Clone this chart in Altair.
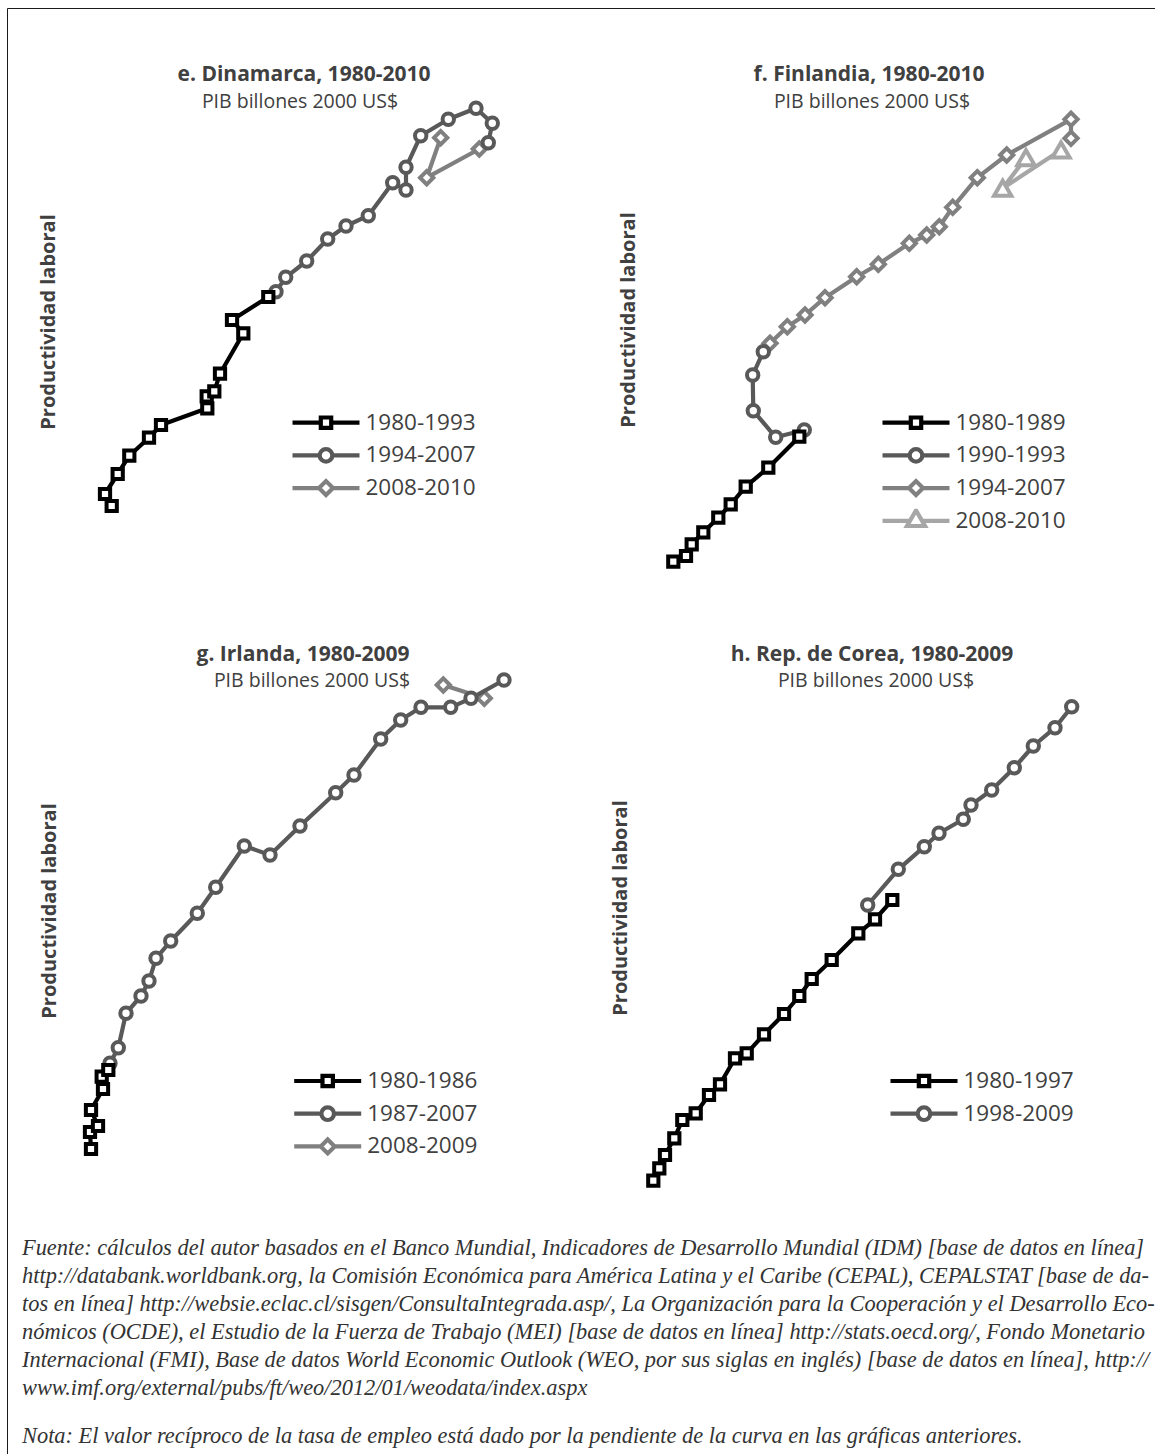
import altair as alt
import pandas as pd

PAD_L, PAD_T = 7, 8
W, H = 1148, 1446

BLACK, DARK, MID, LIGHT = "#000000", "#595959", "#808080", "#a6a6a6"
TXT = "#404040"
SANS = "Open Sans"

# ---------------- data (index units) ----------------
# e. Dinamarca
dk_a_x = [21.7, 15, 27.7, 39.3, 59, 71, 117.3, 116.7, 124.3, 130, 153.3, 142, 178.3]
dk_a_y = [14, 26, 46, 64.3, 82.3, 95, 111.7, 123.7, 128.7, 146.3, 186.7, 200, 223]
dk_b_x = [186, 195.7, 216.7, 237.7, 256, 278.3, 302.7, 316, 316, 330.7, 358.3, 386, 402.3, 398.3]
dk_b_y = [228.3, 242.7, 259, 281, 294, 304.3, 337.3, 330, 352.7, 384.3, 400.7, 411.7, 396.7, 377.3]
dk_c_x = [389.3, 336.7, 350.7]
dk_c_y = [371, 342.3, 382.3]
dk_labels = ["1980-1993", "1994-2007", "2008-2010"]

# f. Finlandia
fi_a_x = [13.3, 26, 31.7, 43.3, 58.3, 70.7, 85.7, 108.3, 139.3]
fi_a_y = [13.3, 19, 30.7, 42.7, 57.3, 70.7, 88.3, 107.3, 138.3]
fi_b_x = [144.3, 115.7, 93.3, 92.7, 103.3]
fi_b_y = [145, 137.7, 164.3, 200, 223.3]
fi_c_x = [110, 127.3, 145, 165, 196.7, 218.3, 249.3, 266.7, 279.3, 292.7, 317.3, 346.7, 411, 411]
fi_c_y = [231.7, 248.3, 260, 277.3, 298.3, 310.7, 331.7, 340, 348.3, 367.7, 397.3, 420, 455.7, 436.7]
fi_d_x = [401, 342.7, 366]
fi_d_y = [425, 386.7, 417.3]
fi_labels = ["1980-1989", "1990-1993", "1994-2007", "2008-2010"]

# g. Irlanda
ie_a_x = [16, 15, 23, 16, 28, 26.7, 33.3]
ie_a_y = [11, 28, 34, 50, 71, 83.3, 90]
ie_b_x = [35, 43.3, 51, 66, 74, 81, 95.7, 122.3, 140.7, 169.3, 195, 225, 260.7, 279, 305.7,
          325.7, 346, 375.7, 396, 429]
ie_b_y = [96.7, 112.3, 146.7, 164, 179, 201.7, 219, 246.7, 272.7, 314, 305, 334, 367.3, 385, 421,
          440, 452.7, 452.7, 461.7, 480]
ie_c_x = [409.3, 368.3]
ie_c_y = [461.7, 475]
ie_labels = ["1980-1986", "1987-2007", "2008-2009"]

# h. Rep. de Corea
kr_a_x = [13.3, 19.3, 25, 34.3, 42.3, 55.7, 69, 80, 95, 106.7, 124, 144, 159.3, 171.7, 191.7,
          218.3, 235, 252.3]
kr_a_y = [14.3, 26.7, 40, 56.7, 75, 81.7, 100, 110.7, 136.7, 141.7, 160.7, 181, 199, 216, 235,
          261.7, 275.7, 295]
kr_b_x = [227.7, 258.3, 284.3, 299, 323.3, 331, 351.7, 374.3, 393.3, 415, 431.7]
kr_b_y = [290, 325.7, 348.3, 361.7, 375.7, 390, 405, 427.3, 449, 467.3, 488.3]
kr_labels = ["1980-1997", "1998-2009"]

FUENTE = [
    "Fuente: cálculos del autor basados en el Banco Mundial, Indicadores de Desarrollo Mundial (IDM) [base de datos en línea]",
    "http://databank.worldbank.org, la Comisión Económica para América Latina y el Caribe (CEPAL), CEPALSTAT [base de da-",
    "tos en línea] http://websie.eclac.cl/sisgen/ConsultaIntegrada.asp/, La Organización para la Cooperación y el Desarrollo Eco-",
    "nómicos (OCDE), el Estudio de la Fuerza de Trabajo (MEI) [base de datos en línea] http://stats.oecd.org/, Fondo Monetario",
    "Internacional (FMI), Base de datos World Economic Outlook (WEO, por sus siglas en inglés) [base de datos en línea], http://",
    "www.imf.org/external/pubs/ft/weo/2012/01/weodata/index.aspx",
]
NOTA = "Nota: El valor recíproco de la tasa de empleo está dado por la pendiente de la curva en las gráficas anteriores."

# ---------------- marker styles ----------------
MARK = {
    "square": ("square", 105),
    "circle": ("circle", 130),
    "diamond": ("diamond", 175),
    "triangle": ("triangle-up", 300),
}
# legend symbols: line with marker (unit = 10 px, symbolSize 400)
LEG_PATH = {
    "square": "M-3.35,0H-0.52M0.52,0H3.35M-0.52,-0.52H0.52V0.52H-0.52Z",
    "circle": "M-3.35,0H-0.63M0.63,0H3.35M0.63,0A0.63,0.63,0,1,1,-0.63,0A0.63,0.63,0,1,1,0.63,0Z",
    "diamond": "M-3.35,0H-0.7M0.7,0H3.35M-0.7,0L0,-0.7L0.7,0L0,0.7Z",
    "triangle": "M-3.35,0H-0.6M0.6,0H3.35M0,-1.04L0.9,0.52L-0.9,0.52Z",
}

one = pd.DataFrame({"k": [0]})


def df_of(xs, ys):
    return pd.DataFrame({"pib": xs, "prod": ys, "orden": list(range(len(xs)))})


def text_layer(txt, x, y, size, weight="normal", angle=0, color=TXT):
    kw = dict(text=txt, font=SANS, fontSize=size, fontWeight=weight, color=color,
              align="center", baseline="middle")
    if angle:
        kw["angle"] = angle
    return alt.Chart(one).mark_text(**kw).encode(x=alt.value(x - PAD_L), y=alt.value(y - PAD_T))


def panel(origin, series, labels, legend_pos, title, title_pos, sub_pos, ylab_pos):
    ox, oy = origin
    xs = alt.Scale(domain=[0, 450], range=[ox - PAD_L, ox - PAD_L + 450], nice=False, zero=False)
    ys = alt.Scale(domain=[0, 500], range=[oy - PAD_T, oy - PAD_T - 500], nice=False, zero=False)
    X = alt.X("pib:Q", scale=xs, axis=None)
    Y = alt.Y("prod:Q", scale=ys, axis=None)
    layers = []
    for (xv, yv, color, mk) in reversed(series):
        base = alt.Chart(df_of(xv, yv))
        layers.append(base.mark_line(color=color, strokeWidth=4.2, strokeJoin="round")
                      .encode(x=X, y=Y, order="orden:Q"))
        shp, sz = MARK[mk]
        layers.append(base.mark_point(shape=shp, size=sz, filled=False, fill="white", fillOpacity=1,
                                      stroke=color, strokeWidth=4, opacity=1)
                      .encode(x=X, y=Y))
    colors = [s[2] for s in series]
    paths = [LEG_PATH[s[3]] for s in series]
    lx, ly = legend_pos
    leg = alt.Legend(orient="none", legendX=lx - PAD_L, legendY=ly - PAD_T - 11, title=None,
                     padding=0, symbolSize=400, symbolStrokeWidth=4.2, symbolOffset=23.5,
                     labelOffset=27, labelFont=SANS, labelFontSize=22.5, labelColor=TXT,
                     clipHeight=24, rowPadding=8.7, symbolOpacity=1, labelLimit=300)
    leg_df = pd.DataFrame({"periodo": labels, "pib": [0] * len(labels), "prod": [0] * len(labels)})
    layers.append(alt.Chart(leg_df).mark_point(opacity=0, filled=False, fill="white").encode(
        x=X, y=Y,
        color=alt.Color("periodo:N", scale=alt.Scale(domain=labels, range=colors), legend=leg),
        shape=alt.Shape("periodo:N", scale=alt.Scale(domain=labels, range=paths), legend=leg),
    ))
    layers.append(text_layer(title, title_pos[0], title_pos[1], 21, "bold"))
    layers.append(text_layer("PIB billones 2000 US$", sub_pos[0], sub_pos[1], 19.5))
    layers.append(text_layer("Productividad laboral", ylab_pos[0], ylab_pos[1], 20, "bold", 270))
    return alt.layer(*layers)


p_e = panel((90, 520),
            [(dk_a_x, dk_a_y, BLACK, "square"), (dk_b_x, dk_b_y, DARK, "circle"),
             (dk_c_x, dk_c_y, MID, "diamond")],
            dk_labels, (290, 421.7), "e. Dinamarca, 1980-2010", (304, 75), (300, 102), (49, 322))
p_f = panel((660, 575),
            [(fi_a_x, fi_a_y, BLACK, "square"), (fi_b_x, fi_b_y, DARK, "circle"),
             (fi_c_x, fi_c_y, MID, "diamond"), (fi_d_x, fi_d_y, LIGHT, "triangle")],
            fi_labels, (880, 421.7), "f. Finlandia, 1980-2010", (869, 75), (872, 102), (629, 320))
p_g = panel((75, 1160),
            [(ie_a_x, ie_a_y, BLACK, "square"), (ie_b_x, ie_b_y, DARK, "circle"),
             (ie_c_x, ie_c_y, MID, "diamond")],
            ie_labels, (291.7, 1080), "g. Irlanda, 1980-2009", (303, 655), (312, 681), (50, 911))
p_h = panel((640, 1195),
            [(kr_a_x, kr_a_y, BLACK, "square"), (kr_b_x, kr_b_y, DARK, "circle")],
            kr_labels, (888, 1080), "h. Rep. de Corea, 1980-2009", (872, 655), (876, 681), (621, 908))

fuente = alt.Chart(one).mark_text(
    text=FUENTE, align="left", baseline="alphabetic", font="Liberation Serif", fontStyle="italic",
    fontSize=22.4, lineHeight=28, color="#333333"
).encode(x=alt.value(22 - PAD_L), y=alt.value(1255 - PAD_T))
nota = alt.Chart(one).mark_text(
    text=NOTA, align="left", baseline="alphabetic", font="Liberation Serif", fontStyle="italic",
    fontSize=22.4, color="#333333"
).encode(x=alt.value(22 - PAD_L), y=alt.value(1443 - PAD_T))

chart = alt.layer(p_e, p_f, p_g, p_h, fuente, nota).resolve_scale(
    x="independent", y="independent", color="independent", shape="independent"
).properties(
    width=W, height=H, padding={"left": PAD_L, "top": PAD_T, "right": 0, "bottom": 0},
    background="white"
).configure_view(stroke="#1a1a1a", strokeWidth=1)

chart.save("out.html", embed_options={"renderer": "svg", "actions": False})
